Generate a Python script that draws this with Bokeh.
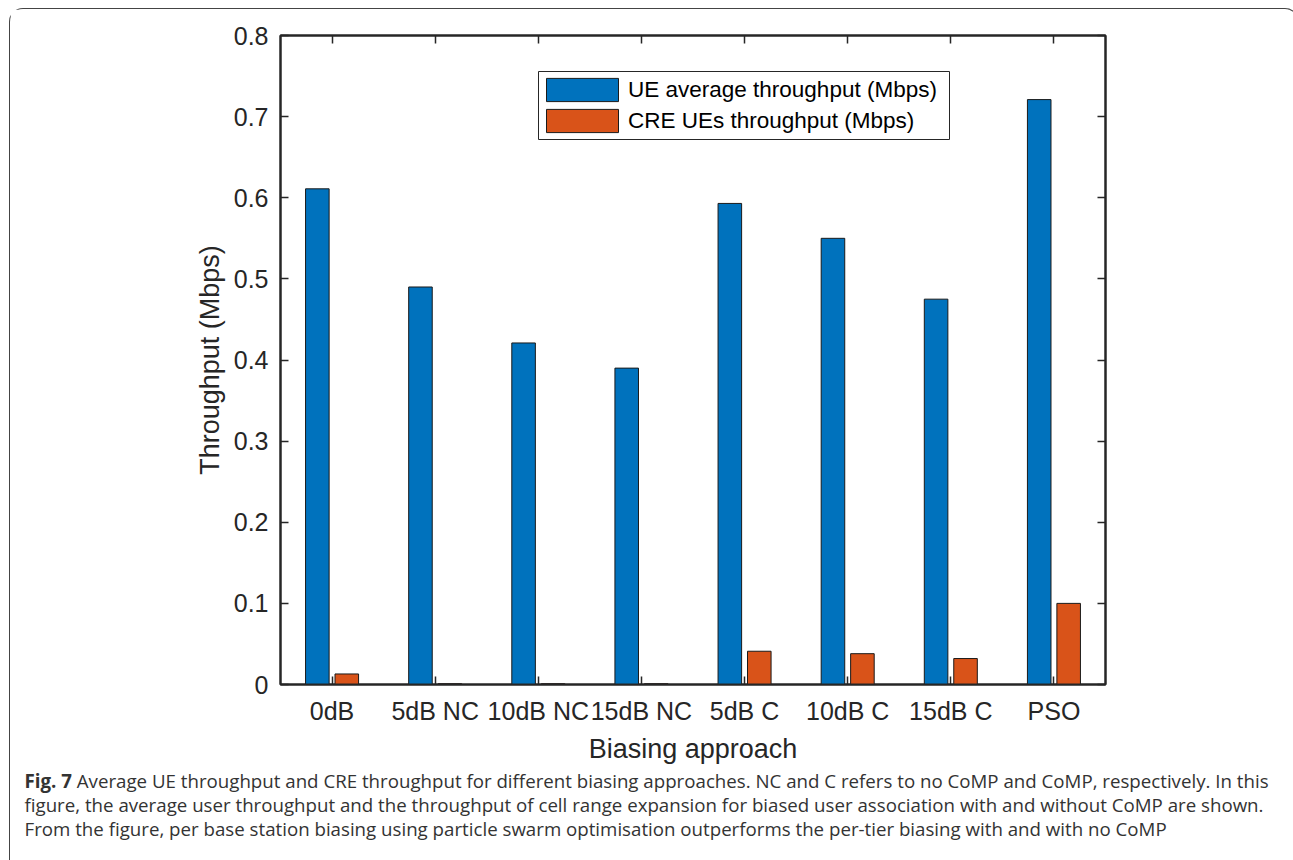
import numpy as np
from bokeh.plotting import figure
from bokeh.layouts import column
from bokeh.models import (Range1d, LinearAxis, FixedTicker, Legend, LegendItem,
                          Div, CustomLabelingPolicy, BoxAnnotation)
from bokeh.embed import file_html
from bokeh.resources import INLINE

categories = ["0dB", "5dB NC", "10dB NC", "15dB NC", "5dB C", "10dB C", "15dB C", "PSO"]
ue_avg = [0.611, 0.490, 0.421, 0.390, 0.593, 0.550, 0.475, 0.721]
cre_ue = [0.013, 0.001, 0.001, 0.001, 0.041, 0.038, 0.032, 0.100]
y_ticks = [0, 0.1, 0.2, 0.3, 0.4, 0.5, 0.6, 0.7, 0.8]
y_tick_labels = ["0", "0.1", "0.2", "0.3", "0.4", "0.5", "0.6", "0.7", "0.8"]
series_names = ["UE average throughput (Mbps)", "CRE UEs throughput (Mbps)"]
caption_bold = "Fig. 7"
caption_lines = [
    "Average UE throughput and CRE throughput for different biasing approaches. NC and C refers to no CoMP and CoMP, respectively. In this",
    "figure, the average user throughput and the throughput of cell range expansion for biased user association with and without CoMP are shown.",
    "From the figure, per base station biasing using particle swarm optimisation outperforms the per-tier biasing with and with no CoMP",
]

BLUE = "#0072BD"
ORANGE = "#D95319"
AX = "#262626"
FONT = "Liberation Sans"
W = 1278

x = np.arange(1, len(categories) + 1)

p = figure(width=W, height=757, output_backend="svg", toolbar_location=None,
           x_range=Range1d(0.5, 8.5), y_range=Range1d(0, 0.8),
           min_border_left=270, min_border_right=183, min_border_top=24,
           min_border_bottom=82, background_fill_color="white",
           border_fill_color="white", outline_line_color=AX, outline_line_width=2)
p.grid.visible = False

bw = 0.2286
off = 0.1428
r1 = p.vbar(x=x - off, top=ue_avg, width=bw, fill_color=BLUE, line_color="#1a1a1a", line_width=1)
r2 = p.vbar(x=x + off, top=cre_ue, width=bw, fill_color=ORANGE, line_color="#1a1a1a", line_width=1)

def style_axis(ax, labels=True):
    ax.axis_line_color = AX
    ax.axis_line_width = 2
    ax.major_tick_line_color = AX
    ax.major_tick_line_width = 1.5
    ax.major_tick_in = 8
    ax.major_tick_out = 0
    ax.minor_tick_line_color = None
    ax.major_label_text_font = FONT
    ax.major_label_text_font_size = "25px"
    ax.major_label_text_color = AX
    ax.axis_label_text_font = FONT
    ax.axis_label_text_font_size = "27px"
    ax.axis_label_text_font_style = "normal"
    ax.axis_label_text_color = AX
    if not labels:
        ax.major_label_policy = CustomLabelingPolicy(code="return new Set()")

xa = p.xaxis[0]
xa.ticker = FixedTicker(ticks=list(x))
xa.major_label_overrides = {int(i): c for i, c in zip(x, categories)}
xa.axis_label = "Biasing approach"
xa.major_label_standoff = 12
xa.axis_label_standoff = 6
style_axis(xa)

ya = p.yaxis[0]
ya.ticker = FixedTicker(ticks=y_ticks)
ya.major_label_overrides = {t: l for t, l in zip(y_ticks, y_tick_labels)}
ya.axis_label = "Throughput (Mbps)"
ya.major_label_standoff = 12
ya.axis_label_standoff = 6
style_axis(ya)

top_ax = LinearAxis(ticker=FixedTicker(ticks=list(x)))
style_axis(top_ax, labels=False)
p.add_layout(top_ax, "above")
right_ax = LinearAxis(ticker=FixedTicker(ticks=y_ticks))
style_axis(right_ax, labels=False)
p.add_layout(right_ax, "right")

# legend frame (drawn separately so the inner spacing can match)
legend_box = BoxAnnotation(left=258, right=669, top=613, bottom=545,
                           left_units="screen", right_units="screen",
                           top_units="screen", bottom_units="screen",
                           fill_color="white", fill_alpha=1.0,
                           line_color=AX, line_width=1, line_alpha=1.0)
p.add_layout(legend_box)

legend = Legend(items=[LegendItem(label=series_names[0], renderers=[r1]),
                       LegendItem(label=series_names[1], renderers=[r2])],
                location=(257, 549), glyph_width=90, glyph_height=29,
                label_text_font=FONT, label_text_font_size="22.5px",
                label_text_color="black", label_standoff=1, spacing=2,
                padding=0, margin=0, border_line_color=None,
                background_fill_alpha=0, label_height=23, label_width=316)
p.add_layout(legend, "center")

# caption
cap_html = (
    "<div style=\"font-family:'Open Sans'; font-size:18.7px; color:#333333; "
    "line-height:24px; margin:-2px 0 0 9.5px; white-space:nowrap;\">"
    f"<b>{caption_bold}</b> {caption_lines[0]}<br>{caption_lines[1]}<br>{caption_lines[2]}"
    "</div>"
)
cap = Div(text=cap_html, width=W, height=92)

layout = column(p, cap, spacing=0,
                styles={"border": "1.5px solid #444444", "border-bottom": "none",
                        "border-radius": "14px 14px 0 0", "margin-left": "9px",
                        "margin-top": "8px", "background-color": "white"})

open("out.html", "w").write(file_html(layout, INLINE))
